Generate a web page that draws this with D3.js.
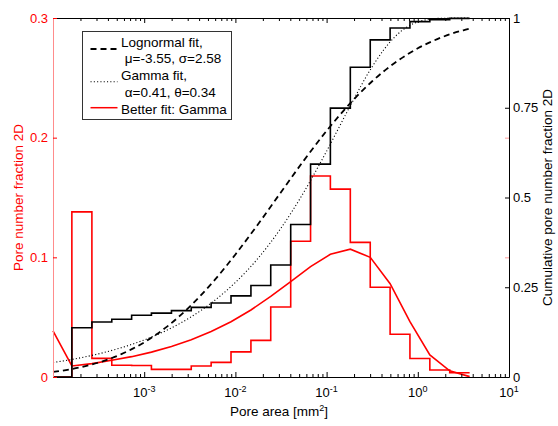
<!DOCTYPE html>
<html lang="en">
<head>
<meta charset="utf-8">
<title>Pore area distribution</title>
<script src="https://cdn.jsdelivr.net/npm/d3@7"></script>
<style>
  body { margin: 0; background: #fff; }
  svg { font-family: "Liberation Sans", Arial, sans-serif; }
</style>
</head>
<body>
<script>
// histogram bin edges (mm^2), log spaced
var binEdges = [1.61e-4, 2.67e-4, 4.41e-4, 7.28e-4, 1.20e-3, 1.99e-3, 3.28e-3, 5.42e-3, 8.95e-3,
  0.0148, 0.0244, 0.0404, 0.0667, 0.110, 0.182, 0.301, 0.497, 0.820, 1.355, 2.239, 3.70];
// pore number fraction per bin (left axis, red)
var poreFraction = [0.138, 0.0156, 0.0098, 0.0096, 0.0064, 0.0064, 0.0092, 0.0122, 0.021, 0.0306,
  0.0585, 0.1135, 0.168, 0.157, 0.1125, 0.075, 0.0357, 0.0155, 0.0058, 0.0035];
// cumulative fraction per bin (right axis, black)
var cumFraction = [0.137, 0.153, 0.161, 0.172, 0.178, 0.185, 0.194, 0.206, 0.226, 0.255,
  0.312, 0.425, 0.593, 0.749, 0.863, 0.939, 0.972, 0.990, 0.995, 0.999];
// gamma fit, fraction per bin (red line), at 1e-4 and the bin edges
var gammaFitX = [1e-4].concat(binEdges);
var gammaFitY = [0.0385, 0.0092, 0.0112, 0.0140, 0.0170, 0.0208, 0.0255, 0.0312, 0.0380, 0.0462, 0.0560,
  0.0673, 0.0797, 0.0922, 0.1025, 0.1068, 0.1000, 0.0780, 0.0462, 0.0184, 0.0052, 0.0003];
// fitted cumulative curves
var cdfX = [1e-4, 1.78e-4, 3.16e-4, 5.62e-4, 1e-3, 1.78e-3, 3.16e-3, 5.62e-3, 0.01, 0.0178,
  0.0316, 0.0562, 0.1, 0.178, 0.316, 0.562, 1, 1.78, 3.16, 3.70];
var lognormalCdf = [0.0141, 0.0244, 0.0402, 0.0637, 0.0965, 0.1404, 0.1963, 0.2636, 0.3413, 0.4262,
  0.5148, 0.6028, 0.6856, 0.7601, 0.8238, 0.8755, 0.9156, 0.9451, 0.9658, 0.9702];
var gammaCdf = [0.0402, 0.0509, 0.0645, 0.0817, 0.1032, 0.1306, 0.1652, 0.2088, 0.2634, 0.3313,
  0.4147, 0.5145, 0.6290, 0.7509, 0.8643, 0.9479, 0.9891, 0.9992, 1.0, 1.0];

var xMajor = [1e-4, 1e-3, 1e-2, 1e-1, 1, 10];
var xLabelExp = [-3, -2, -1, 0, 1];
var leftTicks = [0, 0.1, 0.2, 0.3];
var rightTicks = [0, 0.25, 0.5, 0.75, 1];
var legendLines = ["Lognormal fit,", " \u03bc=-3.55, \u03c3=2.58", "Gamma fit,", " \u03b1=0.41, \u03b8=0.34", "Better fit: Gamma"];

var w = 558, h = 426;
var pL = 53, pR = 509, pT = 18, pB = 377;
var red = "#ff0000";
var tickFont = 13, titleFont = 13.5;

var svg = d3.select("body").append("svg").attr("width", w).attr("height", h);

var x = d3.scaleLog().domain([1e-4, 10]).range([pL, pR]);
var yL = d3.scaleLinear().domain([0, 0.3]).range([pB, pT]);
var yR = d3.scaleLinear().domain([0, 1]).range([pB, pT]);

// minor ticks 2..9 in every decade
var xMinor = [];
xMajor.slice(0, -1).forEach(function(d) {
  for (var k = 2; k <= 9; k++) xMinor.push(d * k);
});

// stairs: start at 1e-4 with 0, then one step per bin
var redSteps = [[1e-4, 0]];
poreFraction.forEach(function(v, i) { redSteps.push([binEdges[i], v]); });
redSteps.push([binEdges[binEdges.length - 1], poreFraction[poreFraction.length - 1]]);

var blackSteps = [[1e-4, 0]];
cumFraction.forEach(function(v, i) { blackSteps.push([binEdges[i], v]); });
blackSteps.push([binEdges[binEdges.length - 1], cumFraction[cumFraction.length - 1]]);

var stepL = d3.line().x(function(d) { return x(d[0]); }).y(function(d) { return yL(d[1]); }).curve(d3.curveStepAfter);
var stepR = d3.line().x(function(d) { return x(d[0]); }).y(function(d) { return yR(d[1]); }).curve(d3.curveStepAfter);

svg.append("path").attr("d", stepL(redSteps))
  .attr("fill", "none").attr("stroke", red).attr("stroke-width", 1.6);

svg.append("path")
  .attr("d", d3.line().x(function(d, i) { return x(gammaFitX[i]); }).y(function(d) { return yL(d); })(gammaFitY))
  .attr("fill", "none").attr("stroke", red).attr("stroke-width", 1.6);

svg.append("path").attr("d", stepR(blackSteps))
  .attr("fill", "none").attr("stroke", "#000").attr("stroke-width", 1.6);

var cdfLine = d3.line().x(function(d, i) { return x(cdfX[i]); }).y(function(d) { return yR(d); }).curve(d3.curveMonotoneX);

svg.append("path").attr("d", cdfLine(lognormalCdf))
  .attr("fill", "none").attr("stroke", "#000").attr("stroke-width", 1.8).attr("stroke-dasharray", "6,4");
svg.append("path").attr("d", cdfLine(gammaCdf))
  .attr("fill", "none").attr("stroke", "#000").attr("stroke-width", 1.1).attr("stroke-dasharray", "1.1,2.2");

// axes
function styleAxis(g, col) {
  g.selectAll("line").attr("stroke", col);
  g.select(".domain").attr("stroke", col);
  g.selectAll("text").attr("font-size", tickFont).attr("font-family", null);
}

var gBottom = svg.append("g").attr("transform", "translate(0," + pB + ")")
  .call(d3.axisBottom(x).tickValues(xMajor).tickSize(-5).tickSizeOuter(0).tickFormat(""));
styleAxis(gBottom, "#000");
svg.append("g").attr("transform", "translate(0," + pB + ")")
  .call(d3.axisBottom(x).tickValues(xMinor).tickSize(-3).tickFormat(""))
  .call(function(g) { g.select(".domain").remove(); styleAxis(g, "#000"); });

var gTop = svg.append("g").attr("transform", "translate(0," + pT + ")")
  .call(d3.axisTop(x).tickValues(xMajor).tickSize(-5).tickSizeOuter(0).tickFormat(""));
styleAxis(gTop, "#000");
svg.append("g").attr("transform", "translate(0," + pT + ")")
  .call(d3.axisTop(x).tickValues(xMinor).tickSize(-3).tickFormat(""))
  .call(function(g) { g.select(".domain").remove(); styleAxis(g, "#000"); });

// x tick labels 10^n
xLabelExp.forEach(function(e) {
  var t = svg.append("text").attr("x", x(Math.pow(10, e))).attr("y", pB + 20)
    .attr("text-anchor", "middle").attr("font-size", tickFont);
  t.append("tspan").text("10");
  t.append("tspan").attr("dy", -5).attr("font-size", 9).text(e);
});

var gLeft = svg.append("g").attr("transform", "translate(" + pL + ",0)")
  .call(d3.axisLeft(yL).tickValues(leftTicks).tickSize(-4).tickSizeOuter(0).tickPadding(5)
    .tickFormat(function(d) { return d === 0 ? "0" : d3.format(".1f")(d); }));
styleAxis(gLeft, red);
gLeft.select(".domain").attr("stroke", "#ff8c8c");
gLeft.selectAll("text").attr("fill", red);

svg.append("g").attr("transform", "translate(" + pR + ",0)")
  .call(d3.axisRight(yL).tickValues(leftTicks.slice(1, 3)).tickSize(-4).tickFormat(""))
  .call(function(g) { g.select(".domain").remove(); styleAxis(g, "#ff9a9a"); });

var gRight = svg.append("g").attr("transform", "translate(" + pR + ",0)")
  .call(d3.axisRight(yR).tickValues(rightTicks).tickSize(-4).tickSizeOuter(0).tickPadding(4)
    .tickFormat(function(d) { return String(d); }));
styleAxis(gRight, "#000");
gRight.selectAll("text").attr("fill", "#000");

// axis titles
var xt = svg.append("text").attr("x", 279).attr("y", 416).attr("text-anchor", "middle").attr("font-size", titleFont);
xt.append("tspan").text("Pore area [mm");
xt.append("tspan").attr("dy", -5).attr("font-size", 9).text("2");
xt.append("tspan").attr("dy", 5).text("]");

svg.append("text").attr("transform", "translate(23," + (pT + pB) / 2 + ") rotate(-90)")
  .attr("text-anchor", "middle").attr("font-size", titleFont).attr("fill", red)
  .text("Pore number fraction 2D");
svg.append("text").attr("transform", "translate(552," + (pT + pB) / 2 + ") rotate(-90)")
  .attr("text-anchor", "middle").attr("font-size", titleFont).attr("fill", "#000")
  .text("Cumulative pore number fraction 2D");

// legend
var lg = svg.append("g").attr("transform", "translate(82.5,31.5)");
lg.append("rect").attr("width", 149).attr("height", 88).attr("fill", "#fff").attr("stroke", "#333");
lg.selectAll("text.leg").data(legendLines).enter().append("text")
  .attr("x", 38.5).attr("y", function(d, i) { return 15.2 + i * 16.7; })
  .attr("font-size", titleFont).style("white-space", "pre")
  .text(function(d) { return d; });
lg.append("line").attr("x1", 8).attr("x2", 35).attr("y1", 17.5).attr("y2", 17.5)
  .attr("stroke", "#000").attr("stroke-width", 1.8).attr("stroke-dasharray", "6,4");
lg.append("line").attr("x1", 8).attr("x2", 35).attr("y1", 50.2).attr("y2", 50.2)
  .attr("stroke", "#000").attr("stroke-width", 1.1).attr("stroke-dasharray", "1.1,2.2");
lg.append("line").attr("x1", 8).attr("x2", 35).attr("y1", 76.2).attr("y2", 76.2)
  .attr("stroke", red).attr("stroke-width", 1.5);
</script>
</body>
</html>
